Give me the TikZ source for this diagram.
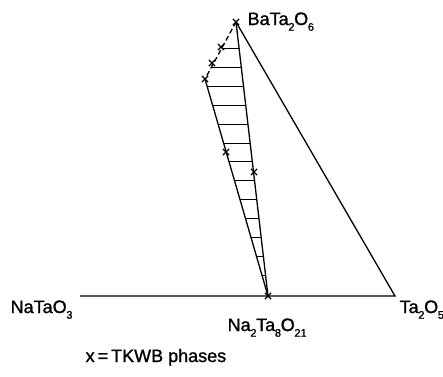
\documentclass[tikz,border=0pt]{standalone}
\usepackage{fontspec}
\setmainfont[FakeBold=1.2]{Liberation Sans}
\usetikzlibrary{calc,shapes.misc}
\newcommand{\lsub}[1]{\kern-0.3pt\raisebox{-0.6ex}{\fontsize{11}{11}\selectfont #1}\kern-0.3pt}
\begin{document}
\begin{tikzpicture}[x=1pt,y=-1pt, line width=1.3pt,
  xmark/.style={draw, cross out, minimum size=5pt, inner sep=0pt, line width=1.2pt},
  lbl/.style={anchor=base west, inner sep=0pt, font=\fontsize{18}{18}\selectfont},
  hatch/.style={line width=1pt}]
\useasboundingbox (0,0) rectangle (443,376);
% vertices
\coordinate (BT) at (236,22);
\coordinate (NT) at (80,296);
\coordinate (TA) at (395,296);
\coordinate (NE) at (268,296);
% TKWB phase marks
\node[xmark] (m0) at (BT) {};
\node[xmark] (m1) at (221,47) {};
\node[xmark] (m2) at (212,63) {};
\node[xmark] (m3) at (205,79) {};
\node[xmark] (m4) at (226,152) {};
\node[xmark] (m5) at (254,172) {};
\node[xmark] (m6) at (NE) {};
% outer lines
\draw (NT) -- (TA) -- (BT);
\draw (BT) -- (NE);
\draw (m3.center) -- (NE);
\draw[dash pattern=on 5pt off 3pt] (BT) -- (m3.center);
% hatching
\foreach \k in {0,...,12}{
  \pgfmathsetmacro{\yy}{48.5+18.9*\k}
  \pgfmathsetmacro{\xl}{\yy<79 ? 236-31*(\yy-22)/57 : 205+63*(\yy-79)/217}
  \pgfmathsetmacro{\xr}{236+32*(\yy-22)/274}
  \draw[hatch] (\xl,\yy) -- (\xr,\yy);
}
% labels
\node[lbl] (lBT) at (247,25) {BaTa\lsub{2}O\lsub{6}};
\node[lbl] (lNT) at (10,313) {NaTaO\lsub{3}};
\node[lbl] (lNE) at (227,331) {Na\lsub{2}Ta\lsub{8}O\lsub{21}};
\node[lbl] (lTA) at (399,313) {Ta\lsub{2}O\lsub{5}};
\node[lbl] (leg) at (85,362) {x\,=\,TKWB phases};
\end{tikzpicture}
\end{document}
